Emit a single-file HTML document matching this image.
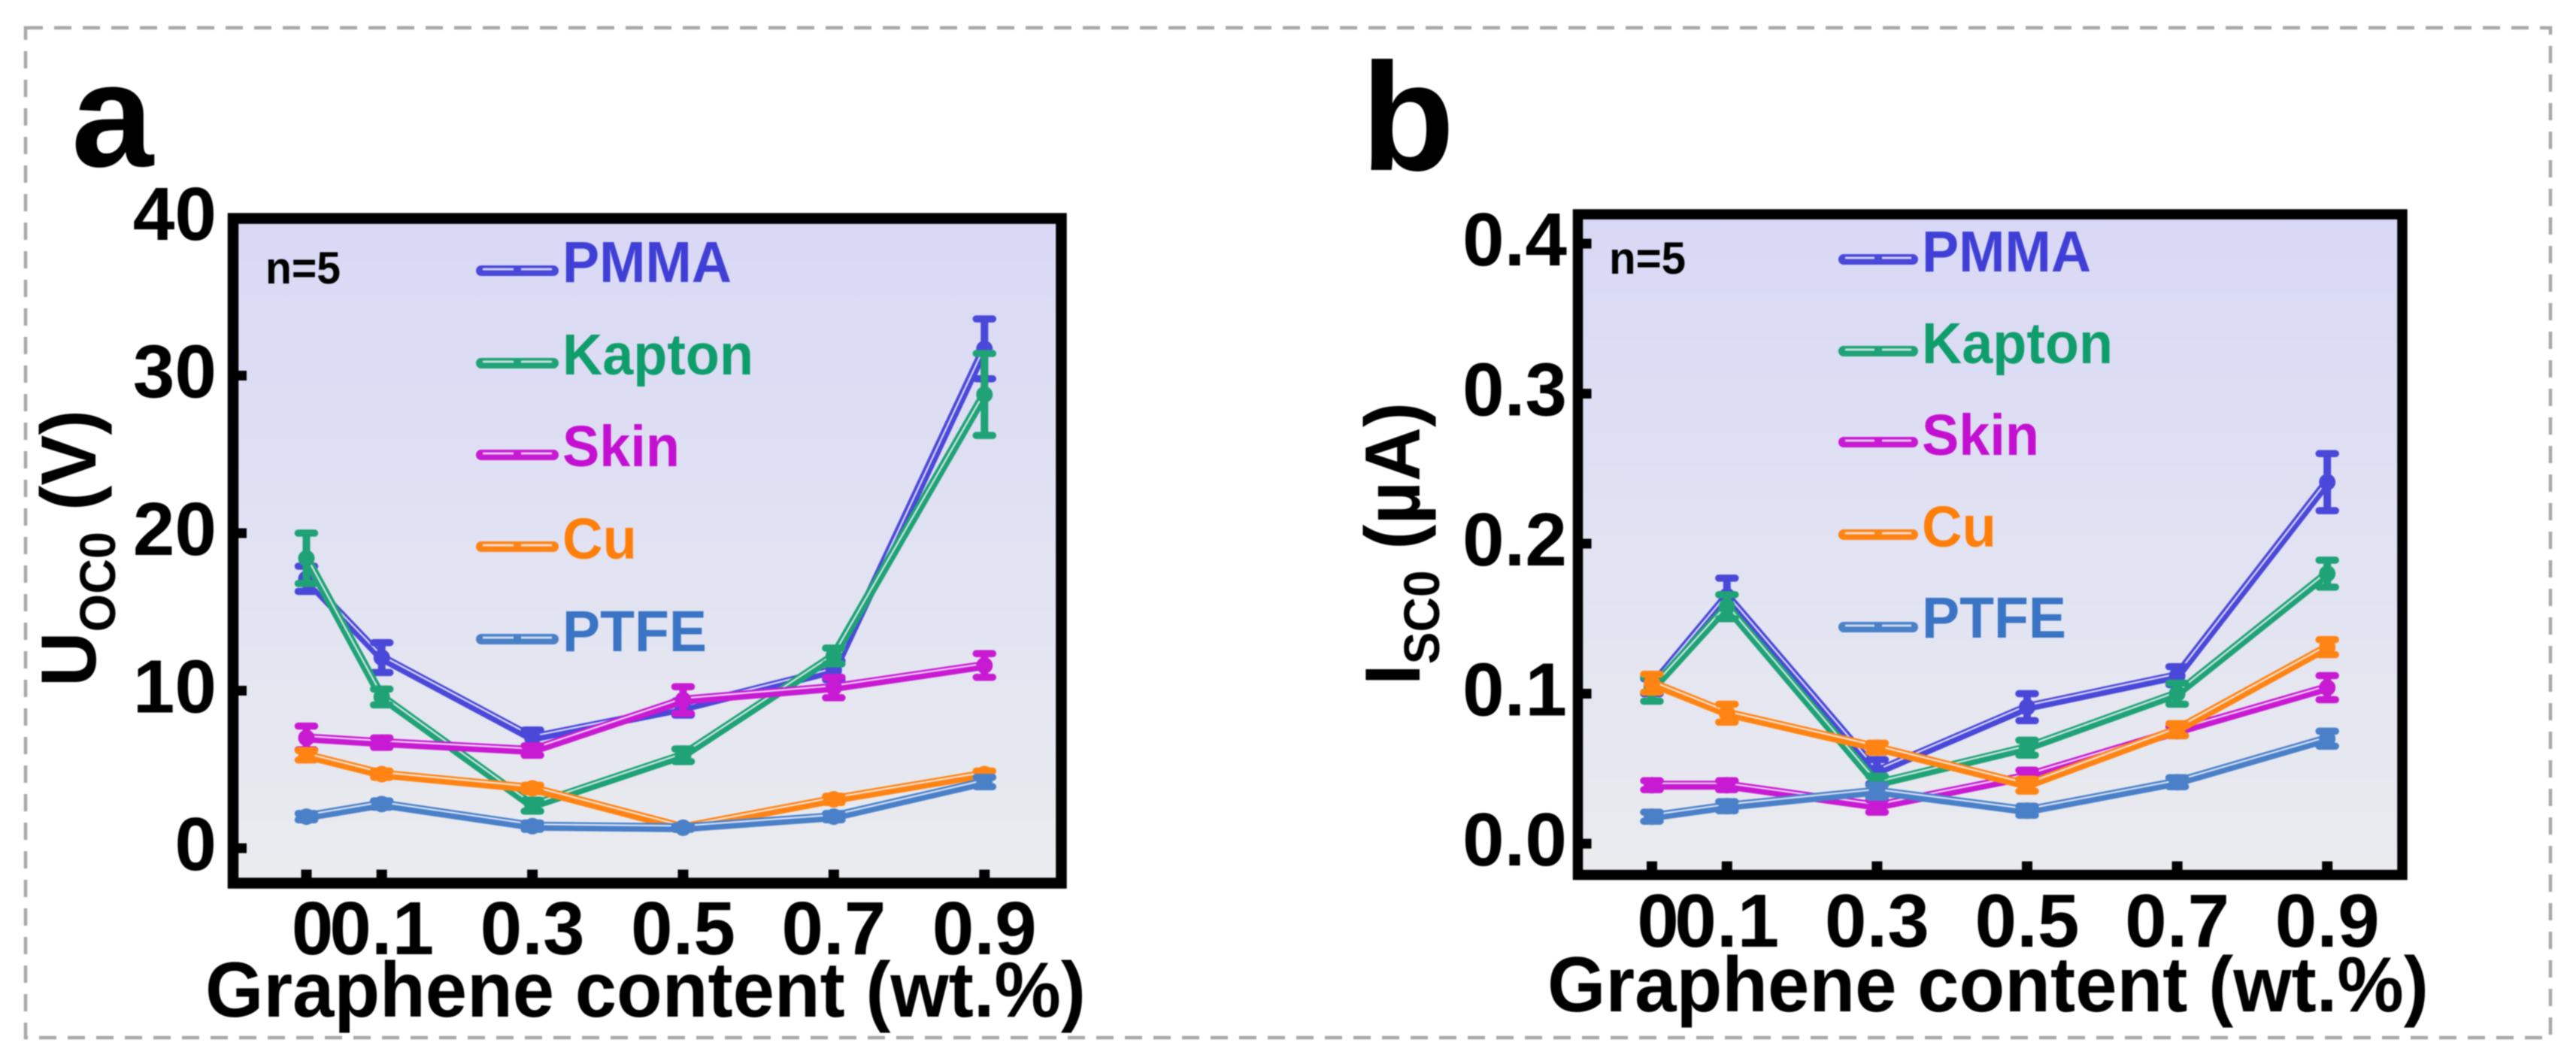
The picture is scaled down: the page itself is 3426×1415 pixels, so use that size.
<!DOCTYPE html>
<html lang="en">
<head>
<meta charset="utf-8">
<title>Graphene content charts</title>
<style>
html,body{margin:0;padding:0;background:#fff;width:3426px;height:1415px;overflow:hidden}
svg{display:block;filter:blur(0.9px)}
text{font-family:"Liberation Sans",sans-serif;font-weight:bold;fill:#000}
</style>
</head>
<body>
<svg id="figure" xmlns="http://www.w3.org/2000/svg" width="3426" height="1415" viewBox="0 0 3426 1415">
  <defs>
    <linearGradient id="plotBg" x1="0" y1="0" x2="0" y2="1">
      <stop offset="0" stop-color="#d8d8f5"/>
      <stop offset="1" stop-color="#e9ebee"/>
    </linearGradient>
  </defs>
  <rect x="0" y="0" width="3426" height="1415" fill="#fff"/>
  <rect x="34" y="37" width="3358" height="1343" fill="none" stroke="#a8a8a8" stroke-width="4.5" stroke-dasharray="23 15"/>

  <text x="95" y="221" font-size="196">a</text>
  <text x="1810" y="226" font-size="204">b</text>

  <g id="panelA">
    <rect x="310" y="290.5" width="1101.5" height="884" fill="url(#plotBg)"/>
    <g id="marksA"></g>
    <rect x="310" y="290.5" width="1101.5" height="884" fill="none" stroke="#000" stroke-width="14.5"/>
    <g id="axesA"></g>
    <text transform="translate(127 913) rotate(-90)" font-size="104" textLength="368" lengthAdjust="spacingAndGlyphs">U<tspan font-size="67" dy="26">OC0</tspan><tspan dy="-26"> (V)</tspan></text>
    <text x="273" y="1352" font-size="104" textLength="1171" lengthAdjust="spacingAndGlyphs">Graphene content (wt.%)</text>
    <text x="353" y="377" font-size="60" textLength="100" lengthAdjust="spacingAndGlyphs">n=5</text>
    <g id="legendA">
      <text x="748" y="375" font-size="77" style="fill:#3f3fd6" textLength="225" lengthAdjust="spacingAndGlyphs">PMMA</text>
      <text x="748" y="498" font-size="77" style="fill:#0f9d6b" textLength="254" lengthAdjust="spacingAndGlyphs">Kapton</text>
      <text x="748" y="620" font-size="77" style="fill:#c30fd0" textLength="156" lengthAdjust="spacingAndGlyphs">Skin</text>
      <text x="748" y="743" font-size="77" style="fill:#ff7f0a" textLength="99" lengthAdjust="spacingAndGlyphs">Cu</text>
      <text x="748" y="866" font-size="77" style="fill:#3a74c4" textLength="192" lengthAdjust="spacingAndGlyphs">PTFE</text>
    </g>
  </g>

  <g id="panelB">
    <rect x="2098.5" y="285" width="1096.5" height="878.5" fill="url(#plotBg)"/>
    <g id="marksB"></g>
    <rect x="2098.5" y="285" width="1096.5" height="878.5" fill="none" stroke="#000" stroke-width="13.5"/>
    <g id="axesB"></g>
    <text transform="translate(1888 911) rotate(-90)" font-size="104" textLength="376" lengthAdjust="spacingAndGlyphs">I<tspan font-size="67" dy="26">SC0</tspan><tspan dy="-26"> (µA)</tspan></text>
    <text x="2058" y="1345" font-size="104" textLength="1172" lengthAdjust="spacingAndGlyphs">Graphene content (wt.%)</text>
    <text x="2140" y="364" font-size="60" textLength="102" lengthAdjust="spacingAndGlyphs">n=5</text>
    <g id="legendB">
      <text x="2556" y="361" font-size="77" style="fill:#3f3fd6" textLength="225" lengthAdjust="spacingAndGlyphs">PMMA</text>
      <text x="2556" y="483" font-size="77" style="fill:#0f9d6b" textLength="254" lengthAdjust="spacingAndGlyphs">Kapton</text>
      <text x="2556" y="605" font-size="77" style="fill:#c30fd0" textLength="156" lengthAdjust="spacingAndGlyphs">Skin</text>
      <text x="2556" y="727" font-size="77" style="fill:#ff7f0a" textLength="99" lengthAdjust="spacingAndGlyphs">Cu</text>
      <text x="2556" y="848" font-size="77" style="fill:#3a74c4" textLength="192" lengthAdjust="spacingAndGlyphs">PTFE</text>
    </g>
  </g>
</svg>
<script>
// Shared categories and tick labels
const contents = [0, 0.1, 0.3, 0.5, 0.7, 0.9];
const xTickLabels = ["0", "0.1", "0.3", "0.5", "0.7", "0.9"];
const seriesNames = ["pmma", "kapton", "skin", "cu", "ptfe"];
const seriesColors = ["#4a48d8", "#1fa275", "#c81ad2", "#ff8414", "#4a80c8"];

// Panel a: U_OC0 (V)
const yTicksA = [0, 10, 20, 30, 40];
const pmmaA = [17.1, 12.1, 7.0, 8.9, 11.3, 31.7];
const pmmaErrA = [0.8, 0.95, 0.5, 0.45, 0.6, 1.9];
const kaptonA = [18.4, 9.6, 2.7, 5.9, 12.2, 28.8];
const kaptonErrA = [1.6, 0.5, 0.35, 0.4, 0.5, 2.6];
const skinA = [7.0, 6.7, 6.2, 9.4, 10.2, 11.6];
const skinErrA = [0.75, 0.3, 0.3, 0.85, 0.65, 0.75];
const cuA = [5.9, 4.7, 3.8, 1.3, 3.1, 4.7];
const cuErrA = [0.3, 0.2, 0.2, 0.1, 0.2, 0.2];
const ptfeA = [2.0, 2.8, 1.4, 1.3, 2.0, 4.2];
const ptfeErrA = [0.2, 0.2, 0.2, 0.1, 0.2, 0.3];

// Panel b: I_SC0 (uA)
const yTicksB = [0.0, 0.1, 0.2, 0.3, 0.4];
const pmmaB = [0.105, 0.165, 0.048, 0.091, 0.112, 0.241];
const pmmaErrB = [0.005, 0.012, 0.008, 0.009, 0.006, 0.019];
const kaptonB = [0.103, 0.158, 0.040, 0.064, 0.100, 0.180];
const kaptonErrB = [0.008, 0.008, 0.005, 0.005, 0.007, 0.009];
const skinB = [0.039, 0.039, 0.025, 0.045, 0.075, 0.104];
const skinErrB = [0.003, 0.003, 0.004, 0.004, 0.003, 0.008];
const cuB = [0.107, 0.087, 0.064, 0.039, 0.076, 0.131];
const cuErrB = [0.006, 0.006, 0.003, 0.004, 0.004, 0.005];
const ptfeB = [0.018, 0.025, 0.035, 0.022, 0.041, 0.070];
const ptfeErrB = [0.003, 0.003, 0.004, 0.003, 0.003, 0.005];

const NS = "http://www.w3.org/2000/svg";

// Axis functions
function xA(v) { return 407.5 + v * 1002; }
function yA(v) { return 1128 - v * 20.95; }
function xB(v) { return 2197 + v * 998; }
function yB(v) { return 1122 - v * 1995; }

function shape(parent, tag, attrs) {
  const el = document.createElementNS(NS, tag);
  for (const k in attrs) el.setAttribute(k, attrs[k]);
  parent.appendChild(el);
  return el;
}

function drawSeries(parent, sx, sy, name, color, values, errs) {
  const g = shape(parent, "g", {});
  
  
  const pts = values.map((v, i) => sx(contents[i]).toFixed(1) + "," + sy(v).toFixed(1)).join(" ");
  const line = shape(g, "polyline", { points: pts, fill: "none", stroke: color, "stroke-width": 12, "stroke-linejoin": "round" });
  
  
  const stripe = shape(g, "polyline", { points: pts, fill: "none", stroke: "#f2f2fb", "stroke-width": 2.2, "stroke-opacity": 0.85, transform: "translate(0 -2.5)" });
  
  
  values.forEach((v, i) => {
    const x = sx(contents[i]);
    const hi = sy(v + errs[i]);
    const lo = sy(v - errs[i]);
    const bar = shape(g, "line", { x1: x, x2: x, y1: hi, y2: lo, stroke: color, "stroke-width": 10 });
    
    
    const capTop = shape(g, "line", { x1: x - 11, x2: x + 11, y1: hi, y2: hi, stroke: color, "stroke-width": 9.5, "stroke-linecap": "round" });
    
    
    const capBottom = shape(g, "line", { x1: x - 11, x2: x + 11, y1: lo, y2: lo, stroke: color, "stroke-width": 9.5, "stroke-linecap": "round" });
    
    
    const dot = shape(g, "circle", { cx: x, cy: sy(v), r: 11, fill: color });
    
    
  });
}

function drawAxes(parent, sx, sy, xEdge, yEdge, labelX, xBase, yDigits) {
  contents.forEach((c, i) => {
    const x = sx(c);
    const tick = shape(parent, "line", { x1: x, x2: x, y1: yEdge, y2: yEdge - 18, stroke: "#000", "stroke-width": 14 });
    
    
    const t = shape(parent, "text", { x: x + (i === 0 ? 8 : 0), y: xBase, "font-size": 100, "text-anchor": "middle" });
    
    
    t.textContent = xTickLabels[i];
  });
  (yDigits === 0 ? yTicksA : yTicksB).forEach(v => {
    const y = sy(v);
    const tick = shape(parent, "line", { x1: xEdge, x2: xEdge + 18, y1: y, y2: y, stroke: "#000", "stroke-width": 13 });
    
    
    const t = shape(parent, "text", { x: labelX, y: y + 29, "font-size": 100, "text-anchor": "end" });
    
    
    t.textContent = v.toFixed(yDigits);
  });
}

function drawLegendLines(parent, x0, x1, ys) {
  ys.forEach((y, i) => {
    const mid = (x0 + x1) / 2;
    const band = shape(parent, "line", { x1: x0 + 7, x2: x1 - 7, y1: y, y2: y, stroke: seriesColors[i], "stroke-width": 14, "stroke-linecap": "round" });
    
    
    const left = shape(parent, "line", { x1: x0 + 9, x2: mid - 5, y1: y - 2, y2: y - 2, stroke: "#eef0fa", "stroke-width": 3, "stroke-opacity": 0.8 });
    
    
    const right = shape(parent, "line", { x1: mid + 5, x2: x1 - 9, y1: y - 2, y2: y - 2, stroke: "#eef0fa", "stroke-width": 3, "stroke-opacity": 0.8 });
    
    
  });
}

const marksA = document.getElementById("marksA");
drawSeries(marksA, xA, yA, seriesNames[0], seriesColors[0], pmmaA, pmmaErrA);
drawSeries(marksA, xA, yA, seriesNames[1], seriesColors[1], kaptonA, kaptonErrA);
drawSeries(marksA, xA, yA, seriesNames[2], seriesColors[2], skinA, skinErrA);
drawSeries(marksA, xA, yA, seriesNames[3], seriesColors[3], cuA, cuErrA);
drawSeries(marksA, xA, yA, seriesNames[4], seriesColors[4], ptfeA, ptfeErrA);

const marksB = document.getElementById("marksB");
drawSeries(marksB, xB, yB, seriesNames[0], seriesColors[0], pmmaB, pmmaErrB);
drawSeries(marksB, xB, yB, seriesNames[1], seriesColors[1], kaptonB, kaptonErrB);
drawSeries(marksB, xB, yB, seriesNames[2], seriesColors[2], skinB, skinErrB);
drawSeries(marksB, xB, yB, seriesNames[3], seriesColors[3], cuB, cuErrB);
drawSeries(marksB, xB, yB, seriesNames[4], seriesColors[4], ptfeB, ptfeErrB);

drawAxes(document.getElementById("axesA"), xA, yA, 310, 1174.5, 288, 1269, 0);
drawAxes(document.getElementById("axesB"), xB, yB, 2098.5, 1163.5, 2084, 1259, 1);

drawLegendLines(document.getElementById("legendA"), 633, 743, [360, 483, 605, 727, 850]);
drawLegendLines(document.getElementById("legendB"), 2445, 2551, [345, 467, 588, 711, 834]);
</script>
</body>
</html>
